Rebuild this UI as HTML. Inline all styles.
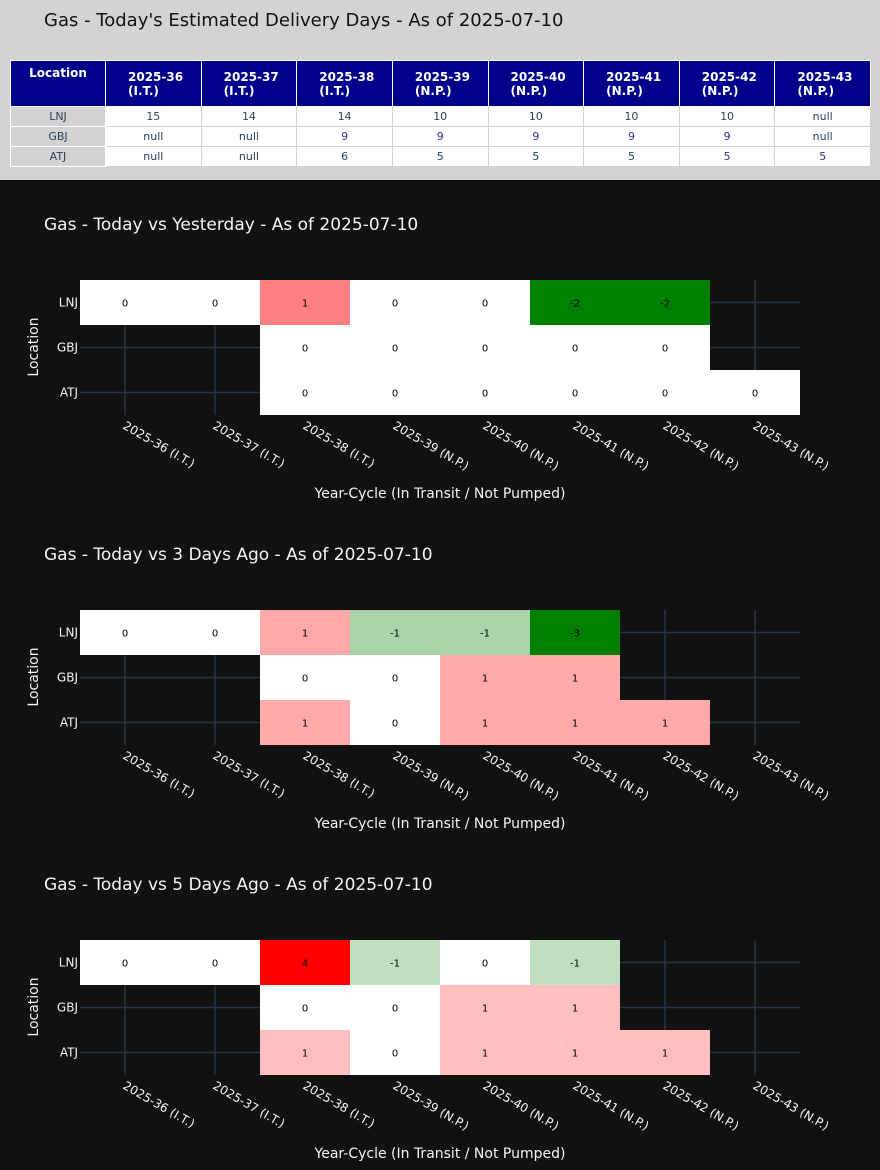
<!DOCTYPE html>
<html><head><meta charset="utf-8">
<style>
body{margin:0;width:880px;height:1170px;background:#111111;font-family:"DejaVu Sans","Liberation Sans",sans-serif;overflow:hidden}
#top{position:absolute;left:0;top:0;width:880px;height:180px;background:#d3d3d3}
#ttl{position:absolute;left:44px;top:10px;font-size:18px;color:#111}
table{position:absolute;left:10px;top:60px;width:861px;border-collapse:collapse;font-size:11px;table-layout:fixed}
th{background:#00008b;color:#fff;height:46px;box-sizing:border-box;border:1px solid #fff;font-weight:bold;font-size:12px;text-align:left;padding:0 0 0 22px;line-height:14px;vertical-align:middle}
th.loc{text-align:center;padding:0;vertical-align:top;padding-top:5px}
td{height:20px;box-sizing:border-box;border:1px solid #d3d3d3;background:#fff;color:#2a3f5f;text-align:center;padding:0;line-height:17px}
td.rl{background:#d3d3d3;border:1px solid #fff}
svg{position:absolute;left:0}
</style></head><body>
<div id="top">
<div id="ttl">Gas - Today's Estimated Delivery Days - As of 2025-07-10</div>
<table>
<colgroup><col style="width:95px"><col span="8"></colgroup>
<tr><th class="loc">Location</th><th>2025-36<br>(I.T.)</th><th>2025-37<br>(I.T.)</th><th>2025-38<br>(I.T.)</th><th>2025-39<br>(N.P.)</th><th>2025-40<br>(N.P.)</th><th>2025-41<br>(N.P.)</th><th>2025-42<br>(N.P.)</th><th>2025-43<br>(N.P.)</th></tr>
<tr><td class="rl">LNJ</td><td>15</td><td>14</td><td>14</td><td>10</td><td>10</td><td>10</td><td>10</td><td>null</td></tr>
<tr><td class="rl">GBJ</td><td>null</td><td>null</td><td>9</td><td>9</td><td>9</td><td>9</td><td>9</td><td>null</td></tr>
<tr><td class="rl">ATJ</td><td>null</td><td>null</td><td>6</td><td>5</td><td>5</td><td>5</td><td>5</td><td>5</td></tr>
</table>
</div>
<svg id="charts" width="880" height="1170" style="top:0"></svg>
<script>
const categories=["2025-36 (I.T.)","2025-37 (I.T.)","2025-38 (I.T.)","2025-39 (N.P.)","2025-40 (N.P.)","2025-41 (N.P.)","2025-42 (N.P.)","2025-43 (N.P.)"];
const locations=["LNJ","GBJ","ATJ"];
const titles=["Gas - Today vs Yesterday - As of 2025-07-10","Gas - Today vs 3 Days Ago - As of 2025-07-10","Gas - Today vs 5 Days Ago - As of 2025-07-10"];
const yesterday=[[0,0,1,0,0,-2,-2,null],[null,null,0,0,0,0,0,null],[null,null,0,0,0,0,0,0]];
const threeDays=[[0,0,1,-1,-1,-3,null,null],[null,null,0,0,1,1,null,null],[null,null,1,0,1,1,1,null]];
const fiveDays=[[0,0,4,-1,0,-1,null,null],[null,null,0,0,1,1,null,null],[null,null,1,0,1,1,1,null]];
const datasets=[yesterday,threeDays,fiveDays];

const NS="http://www.w3.org/2000/svg";
const svg=document.getElementById('charts');
function mk(tag,attrs,parent){const e=document.createElementNS(NS,tag);for(const k in attrs)e.setAttribute(k,attrs[k]);(parent||svg).appendChild(e);return e;}
function color(v,m){if(m===0)m=1;const t=Math.min(1,Math.abs(v)/m);
 if(v>=0){return `rgb(255,${Math.round(255*(1-t))},${Math.round(255*(1-t))})`;}
 return `rgb(${Math.round(255*(1-t))},${Math.round(255-127*t)},${Math.round(255*(1-t))})`;}
const X0=80,CW=90,RH=45;
datasets.forEach((data,ci)=>{
 const top=280+ci*330;
 const g=mk('g',{});
 
 
 const xs=i=>X0+CW*i+CW/2, ys=j=>top+RH*j+RH/2;
 const t=mk('text',{x:44,y:top-50,fill:'#f2f5fa','font-size':17},g);t.textContent=titles[ci];
 
 categories.forEach((c,i)=>{const l=mk('line',{x1:xs(i),x2:xs(i),y1:top,y2:top+RH*3,stroke:'#283442','stroke-width':1.5},g);
  });
 locations.forEach((c,j)=>{const l=mk('line',{x1:X0,x2:X0+CW*8,y1:ys(j),y2:ys(j),stroke:'#283442','stroke-width':1.5},g);
  });
 let m=0;data.forEach(r=>r.forEach(v=>{if(v!==null)m=Math.max(m,Math.abs(v));}));
 data.forEach((row,j)=>row.forEach((v,i)=>{if(v===null)return;
  const r=mk('rect',{x:X0+CW*i,y:top+RH*j,width:CW,height:RH,fill:color(v,m)},g);
  
  const tx=mk('text',{x:xs(i),y:ys(j)+4,fill:'#000','font-size':10,'text-anchor':'middle'},g);tx.textContent=v;
  }));
 locations.forEach((c,j)=>{const tx=mk('text',{x:X0-2,y:ys(j)+4,fill:'#f2f5fa','font-size':12,'text-anchor':'end'},g);tx.textContent=c;
  });
 categories.forEach((c,i)=>{const x=xs(i)-3,y=top+RH*3+13;
  const tx=mk('text',{x:x,y:y,fill:'#f2f5fa','font-size':12,transform:`rotate(30 ${x} ${y})`},g);tx.textContent=c;
  });
 const xt=mk('text',{x:440,y:top+218,fill:'#f2f5fa','font-size':14,'text-anchor':'middle'},g);xt.textContent='Year-Cycle (In Transit / Not Pumped)';
 
 const yy=top+67;
 const yt=mk('text',{x:38,y:yy,fill:'#f2f5fa','font-size':14,'text-anchor':'middle',transform:`rotate(-90 38 ${yy})`},g);yt.textContent='Location';
 
});
</script>
</body></html>
